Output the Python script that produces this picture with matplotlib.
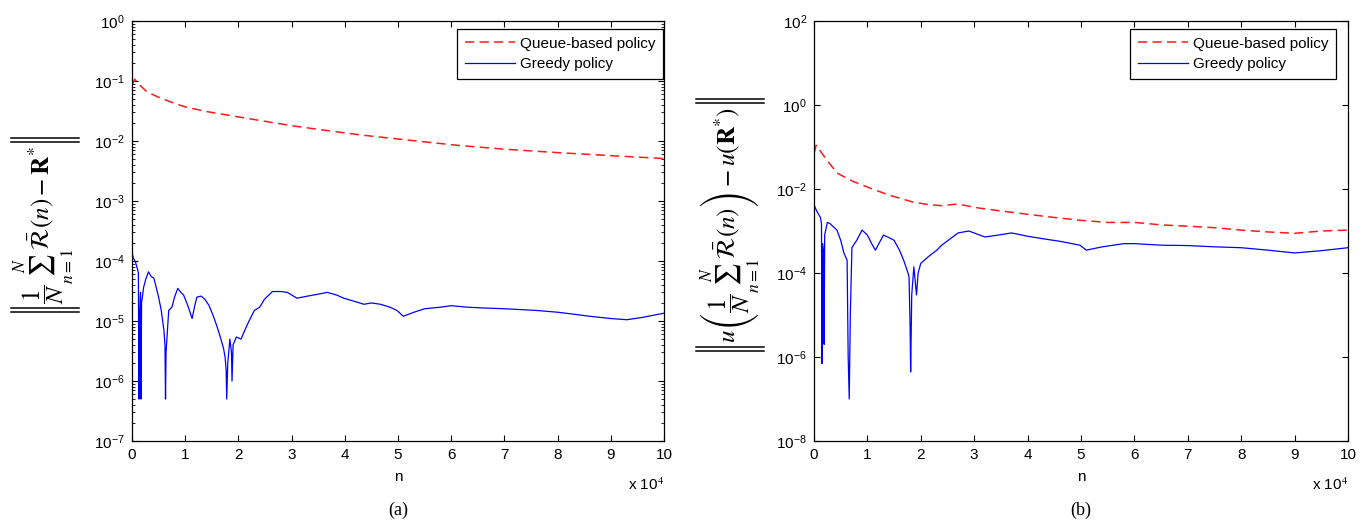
import matplotlib
matplotlib.use("Agg")
import matplotlib.pyplot as plt
from matplotlib.lines import Line2D
from matplotlib.ticker import LogLocator, NullLocator, LogFormatterSciNotation

plt.rcParams["font.family"] = ["Liberation Sans", "DejaVu Sans"]
plt.rcParams["mathtext.fontset"] = "stix"
plt.rcParams["axes.unicode_minus"] = False

# x values are in units of 10^4
nRedA = [0, 0.05, 0.15, 0.28, 0.49, 0.75, 1.0, 1.4, 1.8, 2.4, 3.0, 3.6, 4.3, 5.0, 6.1, 7.0, 8.0, 9.0, 10.0]
redA = [0.085, 0.107, 0.085, 0.066, 0.054, 0.044, 0.037, 0.031, 0.027, 0.022, 0.018, 0.0152, 0.0126,
        0.0108, 0.0085, 0.0073, 0.0064, 0.0057, 0.0051]

nBlueA = [0, 0.03, 0.07, 0.10, 0.12, 0.13, 0.14, 0.16, 0.17, 0.18, 0.22, 0.26, 0.31, 0.36, 0.41, 0.46,
          0.5, 0.55, 0.6, 0.62, 0.63, 0.64, 0.69, 0.75, 0.8, 0.86, 0.92, 0.97, 1.05, 1.13, 1.18, 1.22,
          1.3, 1.37, 1.45, 1.53, 1.6, 1.66, 1.72, 1.75, 1.77, 1.78, 1.8, 1.84, 1.87, 1.88, 1.9, 1.96,
          2.05, 2.12, 2.2, 2.3, 2.4, 2.49, 2.64, 2.8, 2.92, 3.1, 3.3, 3.5, 3.67, 3.85, 3.98, 4.2, 4.36,
          4.5, 4.67, 4.85, 4.98, 5.1, 5.3, 5.5, 5.8, 6.0, 6.3, 6.6, 7.0, 7.3, 7.6, 8.0, 8.3, 8.6, 9.0,
          9.3, 9.6, 10.0]
blueA = [1.35e-4, 1.1e-4, 9.3e-5, 7.5e-5, 6.3e-5, 5e-7, 1e-5, 3e-5, 5e-7, 2e-5, 3.7e-5, 5e-5, 6.6e-5,
         5.5e-5, 5.2e-5, 3.5e-5, 2.5e-5, 1.5e-5, 7e-6, 4e-6, 5e-7, 3e-6, 1.5e-5, 1.7e-5, 2.5e-5,
         3.5e-5, 3.0e-5, 2.7e-5, 1.8e-5, 1.1e-5, 1.8e-5, 2.5e-5, 2.6e-5, 2.3e-5, 1.8e-5, 1.2e-5,
         8e-6, 5.4e-6, 3.5e-6, 2.5e-6, 1.5e-6, 5e-7, 2e-6, 5e-6, 3e-6, 1e-6, 4e-6, 5.4e-6, 5e-6,
         7e-6, 1e-5, 1.5e-5, 1.7e-5, 2.3e-5, 3.1e-5, 3.1e-5, 3.0e-5, 2.4e-5, 2.6e-5, 2.8e-5, 3.0e-5,
         2.7e-5, 2.4e-5, 2.1e-5, 1.9e-5, 2.0e-5, 1.9e-5, 1.7e-5, 1.5e-5, 1.2e-5, 1.4e-5, 1.6e-5,
         1.7e-5, 1.8e-5, 1.7e-5, 1.65e-5, 1.6e-5, 1.55e-5, 1.5e-5, 1.4e-5, 1.3e-5, 1.2e-5, 1.1e-5,
         1.05e-5, 1.15e-5, 1.35e-5]

nRedB = [0, 0.04, 0.24, 0.43, 0.74, 1.05, 1.4, 1.85, 2.17, 2.4, 2.68, 3.1, 3.5, 4.0, 4.5, 4.98, 5.5,
         6.0, 6.5, 7.0, 7.5, 8.0, 8.5, 9.0, 9.5, 10.0]
redB = [0.07, 0.11, 0.049, 0.024, 0.015, 0.0105, 0.0072, 0.0049, 0.0042, 0.0040, 0.0044, 0.0035,
        0.0030, 0.0025, 0.0021, 0.0018, 0.0016, 0.0016, 0.0014, 0.0013, 0.0012, 0.00105, 0.00095,
        0.00088, 0.001, 0.00105]

nBlueB = [0, 0.05, 0.12, 0.14, 0.15, 0.16, 0.18, 0.19, 0.2, 0.25, 0.3, 0.38, 0.43, 0.5, 0.56, 0.62,
          0.64, 0.66, 0.68, 0.71, 0.8, 0.9, 1.0, 1.08, 1.15, 1.3, 1.4, 1.5, 1.6, 1.68, 1.76, 1.78,
          1.8, 1.81, 1.83, 1.87, 1.92, 1.95, 2.0, 2.15, 2.3, 2.4, 2.55, 2.7, 2.9, 3.2, 3.45, 3.7,
          4.0, 4.3, 4.6, 4.98, 5.1, 5.4, 5.8, 6.0, 6.5, 7.0, 7.5, 8.0, 8.5, 9.0, 9.5, 10.0]
blueB = [4.2e-3, 3e-3, 2.1e-3, 1.5e-3, 7e-7, 5e-4, 3e-4, 2e-6, 8e-4, 1.6e-3, 1.5e-3, 1.2e-3, 1.05e-3,
         6e-4, 3e-4, 2e-4, 1e-6, 1e-7, 1e-5, 4e-4, 6e-4, 1.05e-3, 8e-4, 5e-4, 3.5e-4, 8e-4, 7e-4,
         6e-4, 3.5e-4, 2e-4, 1e-4, 8e-5, 5e-6, 4.4e-7, 3e-5, 1.4e-4, 3e-5, 1e-4, 1.7e-4, 2.5e-4,
         3.5e-4, 4.7e-4, 6.5e-4, 9e-4, 1e-3, 7.2e-4, 8e-4, 9e-4, 7.5e-4, 6.5e-4, 5.7e-4, 4.6e-4,
         3.5e-4, 4.2e-4, 5e-4, 5e-4, 4.6e-4, 4.5e-4, 4.2e-4, 4e-4, 3.5e-4, 3e-4, 3.4e-4, 4e-4]

xTicks = list(range(11))
legendLabels = ["Queue-based policy", "Greedy policy"]

# the norm bars are drawn as lines around these
ylabelA = r"$\dfrac{1}{N}\sum_{n=1}^{N}\bar{\mathcal{R}}(n)-\mathbf{R}^{*}$"
ylabelB = r"$u\left(\dfrac{1}{N}\sum_{n=1}^{N}\bar{\mathcal{R}}(n)\right)-u(\mathbf{R}^{*})$"

W, H = 1369, 524
fig = plt.figure(figsize=(W / 100, H / 100), dpi=100, facecolor="white")
axA = fig.add_axes([132 / W, (H - 441) / H, 532 / W, 420 / H])
axB = fig.add_axes([814 / W, (H - 441) / H, 534 / W, 420 / H])
labelTexts = []


def styleAxis(ax, nRed, red, nBlue, blue, ylim, majorTicks, legendX, ylabel, caption, labelX):
    ax.plot(nRed, red, color="#ff1a1a", linestyle=(0, (6, 3.5)), linewidth=1.1, label=legendLabels[0])
    ax.plot(nBlue, blue, color="#0000ff", linewidth=0.9, label=legendLabels[1])
    ax.set_yscale("log")
    ax.set_xlim(0, 10)
    ax.set_ylim(*ylim)
    ax.set_xticks(xTicks)
    ax.set_xticklabels([str(t) for t in xTicks])
    ax.yaxis.set_major_locator(plt.FixedLocator(majorTicks))
    ax.yaxis.set_major_formatter(LogFormatterSciNotation())
    ax.tick_params(which="both", direction="in", top=True, right=True, labelsize=11, pad=5)
    ax.tick_params(which="major", length=4, width=0.8)
    ax.tick_params(which="minor", length=2, width=0.6)
    for s in ax.spines.values():
        s.set_linewidth(0.9)
    ax.set_xlabel("n", fontsize=11, labelpad=6)
    ax.text(1.0, -0.105, r"x 10$^{4}$", transform=ax.transAxes, ha="right", va="center", fontsize=11)
    leg = ax.legend(loc="upper right", bbox_to_anchor=(legendX, 0.981), fontsize=11, fancybox=False,
                    framealpha=1, edgecolor="black", borderaxespad=0, handlelength=3.3,
                    handletextpad=0.3, labelspacing=0.45, borderpad=0.5)
    leg.get_frame().set_linewidth(0.9)
    t = fig.text(labelX, 0.57, ylabel, rotation=90, ha="center", va="center", fontsize=18)
    labelTexts.append(t)
    fig.text((ax.get_position().x0 + ax.get_position().x1) / 2, 0.027, caption,
             family=["Liberation Serif"], fontsize=13, ha="center", va="center")


styleAxis(axA, nRedA, redA, nBlueA, blueA, (1e-7, 1), [10.0 ** k for k in range(-7, 1)], 0.998,
          ylabelA, "(a)", 45 / W)
axA.yaxis.set_minor_locator(LogLocator(base=10, subs=range(2, 10), numticks=20))
styleAxis(axB, nRedB, redB, nBlueB, blueB, (1e-8, 100), [10.0 ** k for k in range(-8, 3, 2)], 0.9775,
          ylabelB, "(b)", 730 / W)
axB.yaxis.set_minor_locator(NullLocator())

# double norm bars below and above each rotated label
fig.canvas.draw()
renderer = fig.canvas.get_renderer()
for t in labelTexts:
    bb = t.get_window_extent(renderer)
    for yPix in (bb.y0 - 4, bb.y0 - 8, bb.y1 + 4, bb.y1 + 8):
        fig.add_artist(Line2D([(bb.x0 - 2) / W, (bb.x1 + 2) / W], [yPix / H, yPix / H],
                              transform=fig.transFigure, color="black", linewidth=1.1))

fig.savefig("out.png", dpi=100, facecolor="white")
